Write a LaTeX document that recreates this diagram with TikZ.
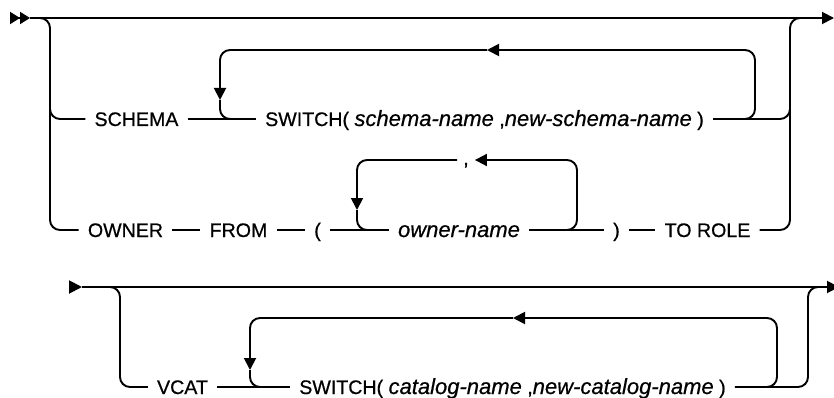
\documentclass[tikz,border=0pt]{standalone}
\usepackage{fontspec}
\setmainfont{Liberation Sans}[FakeBold=0.6]
\usetikzlibrary{arrows.meta}
\newcommand{\upfnt}{\fontsize{19.6pt}{22pt}\selectfont}
\newcommand{\vfnt}[1]{{\fontsize{22pt}{24pt}\selectfont\itshape #1}}
\begin{document}
\begin{tikzpicture}[x=1pt,y=-1pt,
  rail/.style={line width=1.9pt, rounded corners=10pt},
  lbl/.style={font=\upfnt, inner xsep=9pt, inner ysep=0pt, text height=14pt, text depth=0pt},
  tip/.style={-{Triangle[length=12pt,width=12pt]}},
  starttip/.style={line width=1.9pt,-{Triangle[length=10pt,width=12pt]Triangle[length=10pt,width=12pt]}},
  contip/.style={line width=1.9pt,-{Triangle[length=13pt,width=13pt]}}]
\useasboundingbox[fill=white] (0,0) rectangle (834,398);

% ---------- upper diagram ----------
\node[lbl] (schema) at (136.5,119) {SCHEMA};
\node[lbl] (sw1) at (484.5,119) {SWITCH( \vfnt{schema-name} ,\vfnt{new-schema-name} )};
\node[lbl] (owner) at (125.5,230) {OWNER};
\node[lbl] (from) at (238.5,230) {FROM};
\node[lbl] (lp) at (317.5,230) {(};
\node[lbl] (oname) at (459,230) {\vfnt{owner-name}};
\node[lbl] (rp) at (616.5,230) {)};
\node[lbl] (torole) at (707.5,230) {TO ROLE};
\node[lbl, inner xsep=6pt] (comma) at (466,158) {,};

\coordinate (a0) at (10,18);
\coordinate (a1) at (30,18);
\coordinate (aend) at (834,18);
\coordinate (sl1) at (487,50);
\coordinate (sd1) at (220,100);
\coordinate (od1) at (357,210);

\draw[starttip] (a0) -- (a1);
\draw[rail, tip] (a1) -- (aend);
% left branch
\draw[rail] (40,18) -- (50,18) -- (50,230) -- (owner.west);
\draw[rail] (50,105) -- (50,119) -- (schema.west);
% right branch
\draw[rail] (torole.east) -- (790,230) -- (790,18) -- (800,18);
\draw[rail] (sw1.east) -- (790,119) -- (790,105);
% schema row
\draw[rail] (schema.east) -- (sw1.west);
\draw[rail, tip] (740,119) -- (755,119) -- (755,50) -- (sl1);
\draw[rail, tip] (sl1) -- (220,50) -- (sd1);
\draw[rail] (sd1) -- (220,119) -- (236,119);
% owner row
\draw[rail] (owner.east) -- (from.west);
\draw[rail] (from.east) -- (lp.west);
\draw[rail] (lp.east) -- (oname.west);
\draw[rail] (oname.east) -- (rp.west);
\draw[rail] (rp.east) -- (torole.west);
\draw[rail, tip] (562,230) -- (577,230) -- (577,160) -- (comma.east |- 0,160);
\draw[rail, tip] (comma.west |- 0,160) -- (357,160) -- (od1);
\draw[rail] (od1) -- (357,230) -- (373,230);

% ---------- lower diagram ----------
\node[lbl] (vcat) at (182.5,387) {VCAT};
\node[lbl] (sw2) at (512.5,387) {SWITCH( \vfnt{catalog-name} ,\vfnt{new-catalog-name} )};

\coordinate (b0) at (69,287);
\coordinate (b1) at (82,287);
\coordinate (bend) at (839,287);
\coordinate (sl2) at (513,318);
\coordinate (sd2) at (250,370);

\draw[contip] (b0) -- (b1);
\draw[rail, tip] (b1) -- (bend);
\draw[rail] (110,287) -- (120,287) -- (120,387) -- (vcat.west);
\draw[rail] (sw2.east) -- (808,387) -- (808,287) -- (818,287);
\draw[rail] (vcat.east) -- (sw2.west);
\draw[rail, tip] (762,387) -- (777,387) -- (777,318) -- (sl2);
\draw[rail, tip] (sl2) -- (250,318) -- (sd2);
\draw[rail] (sd2) -- (250,387) -- (266,387);
\end{tikzpicture}
\end{document}
